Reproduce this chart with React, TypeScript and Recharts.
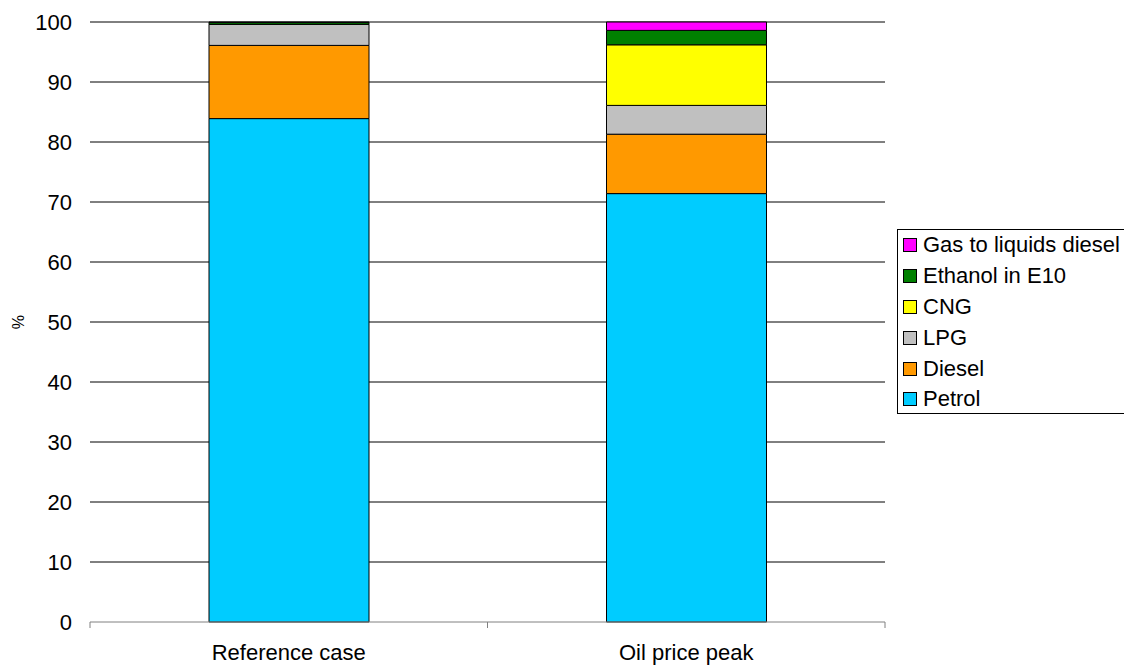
import React from "react";
import { BarChart, Bar, XAxis, YAxis, CartesianGrid, Label } from "recharts";

const categories = ["Reference case", "Oil price peak"];

// share of fuel use, %, stacked bottom to top
const petrol = [83.9, 71.4];
const diesel = [12.2, 9.9];
const lpg = [3.5, 4.8];
const cng = [0, 10.1];
const ethanol = [0.3, 2.4];
const gasToLiquids = [0.1, 1.4];

const seriesNames = ["Petrol", "Diesel", "LPG", "CNG", "Ethanol in E10", "Gas to liquids diesel"];
const seriesKeys = ["petrol", "diesel", "lpg", "cng", "ethanol", "gtl"];
const seriesColors = ["#00CCFF", "#FF9900", "#C0C0C0", "#FFFF00", "#008000", "#FF00FF"];

const yTicks = [0, 10, 20, 30, 40, 50, 60, 70, 80, 90, 100];

const data = categories.map((name, i) => ({
  name,
  petrol: petrol[i],
  diesel: diesel[i],
  lpg: lpg[i],
  cng: cng[i],
  ethanol: ethanol[i],
  gtl: gasToLiquids[i],
}));

const WIDTH = 1124;
const HEIGHT = 666;
const MARGIN = { top: 22, right: 239, left: 0, bottom: 0 };
const Y_AXIS_W = 90;
const PLOT_W = WIDTH - MARGIN.left - MARGIN.right - Y_AXIS_W;
const BAND = PLOT_W / categories.length;
const FONT = "'Liberation Sans', Arial, sans-serif";
const FONT_SIZE = 22;

// category label plus the small tick marks between categories
function CategoryTick(props: any) {
  const { x, y, payload, index } = props;
  const left = x - BAND / 2;
  const right = x + BAND / 2;
  return (
    <g>
      <line x1={left} x2={left} y1={y} y2={y + 6} stroke="#808080" />
      {index === categories.length - 1 && (
        <line x1={right} x2={right} y1={y} y2={y + 6} stroke="#808080" />
      )}
      <text x={x} y={y + 38} textAnchor="middle" fontSize={FONT_SIZE} fill="#000" fontFamily={FONT}>
        {payload.value}
      </text>
    </g>
  );
}

function LegendBox() {
  const order = seriesNames.map((n, i) => i).reverse();
  return (
    <div
      style={{
        position: "absolute",
        left: 897,
        top: 229,
        width: 240,
        height: 183,
        border: "1px solid #000",
        background: "#fff",
        fontFamily: FONT,
        fontSize: FONT_SIZE,
        color: "#000",
      }}
    >
      {order.map((i, row) => (
        <div
          key={seriesKeys[i]}
          style={{
            position: "absolute",
            left: 5,
            top: row * 30.8,
            height: 30.8,
            display: "flex",
            alignItems: "center",
            whiteSpace: "nowrap",
          }}
        >
          <span
            style={{
              display: "inline-block",
              width: 12,
              height: 12,
              border: "1px solid #000",
              background: seriesColors[i],
              marginRight: 6,
            }}
          />
          {seriesNames[i]}
        </div>
      ))}
    </div>
  );
}

export default function App() {
  return (
    <div
      style={{
        position: "absolute",
        left: 0,
        top: 0,
        width: WIDTH,
        height: HEIGHT,
        overflow: "hidden",
        background: "#fff",
        fontFamily: FONT,
      }}
    >
      <BarChart width={WIDTH} height={HEIGHT} data={data} margin={MARGIN}>
        <CartesianGrid
          vertical={false}
          stroke="#000"
          horizontalValues={yTicks.filter((v) => v > 0)}
        />
        <YAxis
          width={Y_AXIS_W}
          domain={[0, 100]}
          ticks={yTicks}
          axisLine={false}
          tickLine={false}
          tickSize={0}
          tickMargin={18}
          tick={{ fontSize: FONT_SIZE, fill: "#000", fontFamily: FONT }}
          interval={0}
        >
          <Label
            content={(p: any) => {
              const vb = p.viewBox;
              const cx = vb.x + 18;
              const cy = vb.y + vb.height / 2;
              return (
                <text
                  x={cx}
                  y={cy}
                  transform={`rotate(-90 ${cx} ${cy})`}
                  textAnchor="middle"
                  dominantBaseline="central"
                  fontSize={16}
                  fill="#000"
                  fontFamily={FONT}
                >
                  %
                </text>
              );
            }}
          />
        </YAxis>
        <XAxis
          dataKey="name"
          height={44}
          axisLine={{ stroke: "#808080" }}
          tickLine={false}
          tickSize={0}
          tickMargin={0}
          tick={<CategoryTick />}
          interval={0}
        />
        {seriesKeys.map((k, i) => (
          <Bar
            key={k}
            dataKey={k}
            name={seriesNames[i]}
            stackId="fuel"
            fill={seriesColors[i]}
            stroke="#000"
            strokeWidth={1}
            barSize={160}
            isAnimationActive={false}
          />
        ))}
      </BarChart>
      <LegendBox />
    </div>
  );
}
